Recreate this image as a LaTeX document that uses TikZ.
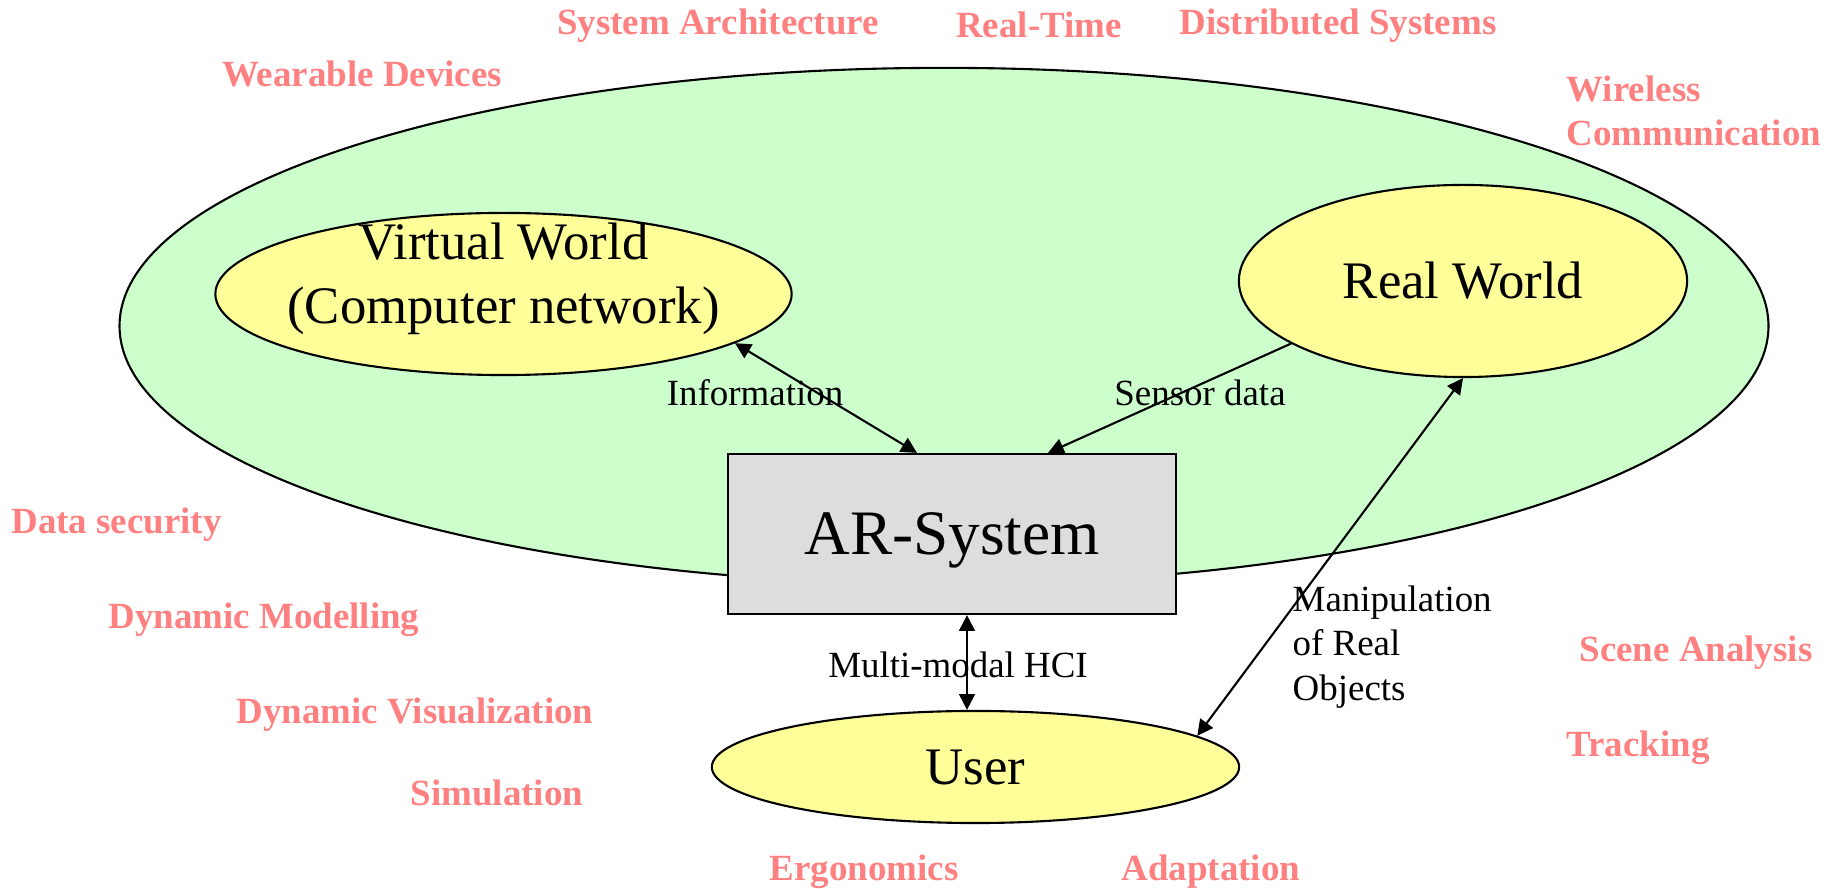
\documentclass[tikz,border=0pt]{standalone}
\usepackage{fontspec}
\setmainfont{Liberation Serif}
\usetikzlibrary{positioning}
\usetikzlibrary{arrows.meta,shapes.geometric}
\usetikzlibrary{calc}
\definecolor{fieldgreen}{RGB}{204,255,204}
\definecolor{worldyellow}{RGB}{255,255,153}
\definecolor{boxgray}{RGB}{221,221,221}
\definecolor{topicred}{RGB}{255,128,128}
\tikzstyle{world}=[ellipse,draw,fill=worldyellow,line width=0.6pt,inner sep=0pt,font=\fontsize{15}{18.3}\selectfont,align=center]
\tikzstyle{topic}=[text=topicred,font=\fontsize{10.5}{12.3}\selectfont\bfseries,inner sep=0pt]
\tikzstyle{flow}=[font=\fontsize{10.5}{12.6}\selectfont,inner sep=0pt]
\tikzstyle{link}=[line width=0.6pt,>={Triangle[length=4.5pt,width=4.5pt]}]

\begin{document}
\begin{tikzpicture}[x=0.01cm,y=-0.01cm]

  \useasboundingbox (0,0) rectangle (1836,889);

  % outer field
  \node[ellipse,draw,fill=fieldgreen,line width=0.6pt,minimum width=16.48cm,minimum height=5.16cm] (field) at (944,326) {};

  \node[world,minimum width=5.76cm,minimum height=1.62cm] (virtual) at (503.5,294) {};
  \node[font=\fontsize{15}{18.3}\selectfont,align=center] (vwtext) at (503.5,279) {Virtual World\\(Computer network)};
  \node[world,minimum width=4.48cm,minimum height=1.92cm] (real) at (1463,281) {Real World};

  \node[rectangle,draw,fill=boxgray,line width=0.6pt,minimum width=4.48cm,minimum height=1.6cm,text depth=0pt,font=\fontsize{18}{21}\selectfont] (ar) at (952,534) {AR-System};

  \node[world,minimum width=5.27cm,minimum height=1.12cm] (user) at (975.5,767) {User};

%  flow labels
  \node[flow] (info) at (755,393) {Information};
  \node[flow] (sensor) at (1200,393) {Sensor data};
  \node[flow] (hci) at (958,665) {Multi-modal HCI};
  \node[flow,anchor=west,align=left] (manip) at (1292,647) {Manipulation\\of Real\\Objects};

  \draw[link,<->] (virtual.-12) -- ($(ar.north)+(-35,0)$);
  \draw[link,->] (real.200) -- ($(ar.north)+(96,0)$);
  \draw[link,<->] ($(ar.south)+(15,0)$) -- ($(user.north)+(-8.5,0)$);
  \draw[link,<->] (real.south) -- (user.8);

  % research topics
  \foreach \pos/\name/\txt in {{(718,26)/sysarch/System Architecture}, {(1039,25)/realtime/Real-Time}, {(1338,26)/distsys/Distributed Systems},
      {(362,74)/wearable/Wearable Devices}, {(116.5,525)/security/Data security}, {(264,620)/modelling/Dynamic Modelling},
      {(415,715)/visual/Dynamic Visualization}, {(497,793)/simulation/Simulation}, {(864,872)/ergonomics/Ergonomics},
      {(1211,872)/adaptation/Adaptation}, {(1696,653)/scene/Scene Analysis}, {(1638,748)/tracking/Tracking}}
    \node[topic] (\name) at \pos {\txt};
  \node[topic,anchor=west,align=left] (wireless) at (1566,111) {Wireless\\Communication};

\end{tikzpicture}
\end{document}
